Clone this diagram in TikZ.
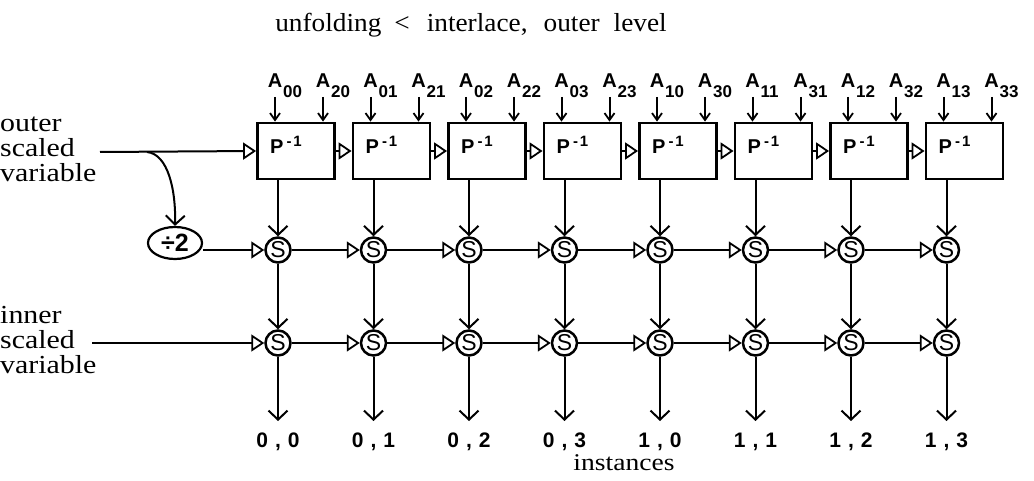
\documentclass[tikz,border=0pt]{standalone}
\usepackage{fontspec}
\setmainfont{Liberation Serif}[FakeStretch=1.15]
\setsansfont{Liberation Sans}
\newfontfamily\ttlfont{Liberation Serif}[FakeStretch=1.05]
\usetikzlibrary{arrows.meta,shapes.geometric}
\newcommand\instlab[2]{#1\hspace{7pt},\hspace{7pt}#2}
\newcommand\alab[1]{A\rlap{\smash{\raisebox{-10pt}{\fontsize{17}{17}\selectfont\hspace{1pt}#1}}}}
\tikzset{
  lbl/.style={font=\fontsize{26}{25}\selectfont, align=left, inner sep=0pt},
  ttl/.style={font=\ttlfont\fontsize{26}{26}\selectfont, inner sep=0pt, anchor=base},
  pbox/.style={draw, line width=2.8pt, minimum width=77pt, minimum height=56pt, inner sep=0pt},
  ptext/.style={font=\sffamily\bfseries\fontsize{20}{20}\selectfont, inner sep=0pt},
  atext/.style={font=\sffamily\bfseries\fontsize{20}{20}\selectfont, inner sep=0pt, anchor=base},
  otext/.style={font=\sffamily\bfseries\fontsize{21}{21}\selectfont, inner sep=0pt, anchor=base},
  snode/.style={draw, circle, line width=2.5pt, minimum size=25pt, inner sep=0pt, font=\sffamily\fontsize{23}{23}\selectfont},
  divnode/.style={draw, ellipse, line width=2.2pt, minimum width=54pt, minimum height=32pt, inner sep=0pt, font=\sffamily\bfseries\fontsize{25}{25}\selectfont},
  wire/.style={line width=2pt},
  tri/.style={wire, -{Triangle[open, length=13pt, width=17pt, line width=1.8pt]}},
  barb/.style={wire, -{Straight Barb[length=9pt, width=19pt, line width=2pt]}},
  sbarb/.style={wire, -{Straight Barb[length=7pt, width=10pt, line width=1.8pt]}},
}
\begin{document}
\begin{tikzpicture}[x=1pt,y=-1pt]
\useasboundingbox (0,0) rectangle (1034,481);
\node[ttl] (title) at (471,32) {unfolding\hspace{13pt}<\hspace{17pt}interlace,\hspace{16pt}outer\hspace{14pt}level};
\node[lbl, anchor=west] (outerlbl) at (0,149) {outer\\scaled\\variable};
\node[lbl, anchor=west] (innerlbl) at (0,340) {inner\\scaled\\variable};
\node[divnode] (div) at (175,243) {÷2};
\coordinate (outin) at (100,152);
\coordinate (inin) at (92,343);
\coordinate (br) at (147,152);
\foreach \i/\p/\q/\oa/\ob in {0/00/20/0/0,1/01/21/0/1,2/02/22/0/2,3/03/23/0/3,4/10/30/1/0,5/11/31/1/1,6/12/32/1/2,7/13/33/1/3}{
  \pgfmathsetmacro\sx{278+95.5*\i}
  \node[pbox] (P\i) at (\sx+18,151) {};
  \node[ptext] (Pt\i) at (\sx+8,145) {P\hspace{3pt}\raisebox{7pt}{\fontsize{15}{15}\selectfont -\hspace{2pt}1}};
  \node[atext] (Aa\i) at (\sx-3,88) {\alab{\p}};
  \node[atext] (Ab\i) at (\sx+45,88) {\alab{\q}};
  \draw[sbarb] ([yshift=-9pt]Aa\i.base) -- (Aa\i.base |- P\i.north);
  \draw[sbarb] ([yshift=-9pt]Ab\i.base) -- (Ab\i.base |- P\i.north);
  \node[snode] (M\i) at (\sx,250) {S};
  \node[snode] (N\i) at (\sx,343) {S};
  \coordinate (O\i) at (\sx,421);
  \node[otext] (L\i) at (\sx,447) {\instlab{\oa}{\ob}};
  \draw[barb] (M\i |- P\i.south) -- (M\i.north);
  \draw[barb] (M\i.south) -- (N\i.north);
  \draw[barb] (N\i.south) -- (O\i);
}
\foreach \i/\j in {0/1,1/2,2/3,3/4,4/5,5/6,6/7}{
  \draw[tri] (P\i.east) -- (P\j.west);
  \draw[tri] (M\i.east) -- (M\j.west);
  \draw[tri] (N\i.east) -- (N\j.west);
}
\draw[tri] (outin) -- (P0.west);
\draw[barb] (br) .. controls (168,154) and (176,190) .. (div.north);
\draw[tri] (div.east |- M0.west) -- (M0.west);
\draw[tri] (inin) -- (N0.west);
\node[font=\fontsize{24}{24}\selectfont, inner sep=0pt, anchor=base] (inst) at (624,470) {instances};
\end{tikzpicture}
\end{document}
